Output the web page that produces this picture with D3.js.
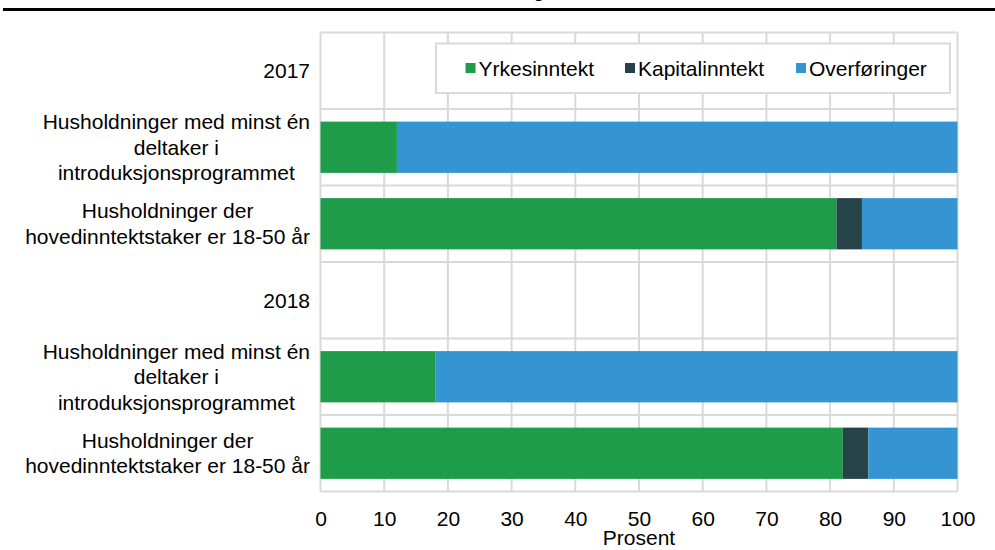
<!DOCTYPE html>
<meta charset="utf-8">
<style>
body { margin: 0; background: #fff; }
text { font-family: "Liberation Sans", Arial, sans-serif; fill: #000; }
</style>
<body>
<script src="https://cdn.jsdelivr.net/npm/d3@7"></script>
<script>
// rows of the chart, top to bottom (year rows carry no bars)
var rows = [
  { label: ["2017"], year: true },
  { label: ["Husholdninger med minst én", "deltaker i", "introduksjonsprogrammet"] },
  { label: ["Husholdninger der", "hovedinntektstaker er 18-50 år"] },
  { label: ["2018"], year: true },
  { label: ["Husholdninger med minst én", "deltaker i", "introduksjonsprogrammet"] },
  { label: ["Husholdninger der", "hovedinntektstaker er 18-50 år"] }
];
var series = ["Yrkesinntekt", "Kapitalinntekt", "Overføringer"];
var colors = ["#1f9c4a", "#264348", "#3594d2"];
// percent per row (null for the year header rows)
var yrkes   = [null, 12, 81, null, 18, 82];
var kapital = [null, 0, 4, null, 0, 4];
var overf   = [null, 88, 15, null, 82, 14];
var xTicks = [0, 10, 20, 30, 40, 50, 60, 70, 80, 90, 100];

var W = 995, H = 550;
var pL = 320.5, pR = 957.5, pT = 32.5, pB = 491.5;
var fs = "21px";

var svg = d3.select("body").append("svg").attr("width", W).attr("height", H);

// cut-off title and the rule above the chart
svg.append("text").attr("x", 539).attr("y", -2).attr("text-anchor", "middle")
  .style("font-size", "17px").style("font-weight", "bold").text("g");
svg.append("rect").attr("x", 3).attr("y", 8).attr("width", W - 3).attr("height", 3).attr("fill", "#000");

var x = d3.scaleLinear().domain([0, 100]).range([pL, pR]);
var y = d3.scaleBand().domain(d3.range(rows.length)).range([pT, pB]).paddingInner(0.33).paddingOuter(0.165);
var yb = d3.scaleBand().domain(d3.range(rows.length)).range([pT, pB]);

var grid = svg.append("g");
// horizontal lines between rows
grid.selectAll("line.h").data(d3.range(rows.length + 1)).enter().append("line")
  .attr("x1", pL).attr("x2", pR)
  .attr("y1", function(i) { return i < rows.length ? yb(i) : pB; })
  .attr("y2", function(i) { return i < rows.length ? yb(i) : pB; })
  .attr("stroke", "#d9d9d9").attr("stroke-width", 2);
// vertical lines
grid.selectAll("line.v").data(xTicks).enter().append("line")
  .attr("x1", function(d) { return x(d); }).attr("x2", function(d) { return x(d); })
  .attr("y1", pT).attr("y2", pB)
  .attr("stroke", "#d9d9d9").attr("stroke-width", 2);

// stacked bars
var table = rows.map(function(r, i) {
  return { i: i, Yrkesinntekt: yrkes[i], Kapitalinntekt: kapital[i], "Overføringer": overf[i] };
}).filter(function(d) { return d.Yrkesinntekt !== null; });
var stack = d3.stack().keys(series)(table);

svg.append("g").selectAll("g").data(stack).enter().append("g")
  .attr("fill", function(d, k) { return colors[k]; })
  .selectAll("rect").data(function(d) { return d; }).enter().append("rect")
  .attr("x", function(d) { return x(d[0]); })
  .attr("width", function(d) { return x(d[1]) - x(d[0]); })
  .attr("y", function(d) { return y(d.data.i); })
  .attr("height", y.bandwidth());

// category labels: block right aligned, lines centred in block
var lab = svg.append("g");
rows.forEach(function(r, i) {
  var g = lab.append("g");
  var lh = 25.5;
  var cy = yb(i) + yb.bandwidth() / 2;
  var t = g.selectAll("text").data(r.label).enter().append("text")
    .attr("text-anchor", "middle")
    .attr("y", function(d, k) { return cy + (k - (r.label.length - 1) / 2) * lh; })
    .attr("dy", "0.35em")
    .style("font-size", fs)
    .text(function(d) { return d; });
  var maxW = 0;
  t.each(function() { maxW = Math.max(maxW, this.getComputedTextLength()); });
  t.attr("x", 310 - maxW / 2);
});

// x axis labels
var xa = svg.append("g").attr("transform", "translate(0," + pB + ")")
  .call(d3.axisBottom(x).tickValues(xTicks).tickSize(0).tickPadding(20));
xa.select(".domain").remove();
xa.selectAll("text").style("font-size", fs).attr("fill", "#000")
  .style("font-family", "'Liberation Sans', Arial, sans-serif");
svg.append("text").attr("x", x(50)).attr("y", 545).attr("text-anchor", "middle")
  .style("font-size", fs).text("Prosent");

// legend
var lg = svg.append("g");
lg.append("rect").attr("x", 436).attr("y", 43.5).attr("width", 514).attr("height", 49.5)
  .attr("fill", "#fff").attr("stroke", "#d9d9d9").attr("stroke-width", 2);
var lx = [465.5, 625, 796];
series.forEach(function(s, k) {
  lg.append("rect").attr("x", lx[k]).attr("y", 63).attr("width", 10).attr("height", 10).attr("fill", colors[k]);
  lg.append("text").attr("x", lx[k] + 13).attr("y", 75.5).style("font-size", fs).text(s);
});
</script>
</body>
